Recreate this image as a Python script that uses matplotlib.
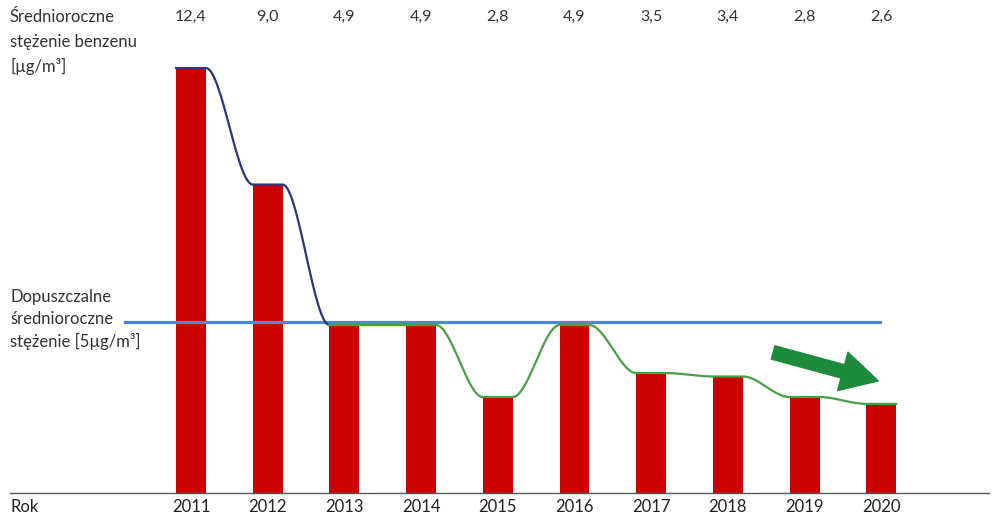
import numpy as np
import matplotlib
matplotlib.use("Agg")
from matplotlib import pyplot as plt

### data
years = [2011, 2012, 2013, 2014, 2015, 2016, 2017, 2018, 2019, 2020]
benzene = [12.4, 9.0, 4.9, 4.9, 2.8, 4.9, 3.5, 3.4, 2.8, 2.6]
value_labels = ["12,4", "9,0", "4,9", "4,9", "2,8", "4,9", "3,5", "3,4", "2,8", "2,6"]
limit = 5.0

plt.rcParams["font.family"] = ["Lato", "DejaVu Sans"]

W, H = 997, 515
fig = plt.figure(figsize=(W / 100, H / 100), dpi=100)
ax = fig.add_axes([0, 0, 1, 1])
ax.axis("off")

### pixel layout -> data scale
x0_px, step_px = 191, 76.7
base_px, unit_px = 493, 34.27
ax.set_xlim(years[0] - x0_px / step_px, years[0] + (W - x0_px) / step_px)
ax.set_ylim(-(H - base_px) / unit_px, base_px / unit_px)

bar_w = 0.39
red = "#cc0000"
ax.bar(years, benzene, width=bar_w, color=red, zorder=2)


def smooth_path(xs, ys, w):
    """flat over each bar top, smooth step between bars"""
    px, py = [], []
    for i in range(len(xs)):
        px += [xs[i] - w / 2, xs[i] + w / 2]
        py += [ys[i], ys[i]]
        if i < len(xs) - 1:
            a, b = xs[i] + w / 2, xs[i + 1] - w / 2
            t = np.linspace(0, 1, 40)
            s = t * t * (3 - 2 * t)
            px += list(a + (b - a) * t)
            py += list(ys[i] + (ys[i + 1] - ys[i]) * s)
    return np.array(px), np.array(py)


# navy part: above the limit (2011 -> 2013)
nx, ny = smooth_path(years[:3], benzene[:3], bar_w)
keep = nx <= years[2] - bar_w / 2
ax.plot(nx[keep], ny[keep], color="#2b3580", lw=1.6, zorder=4)

# green part: 2013 -> 2020
gx, gy = smooth_path(years[2:], benzene[2:], bar_w)
ax.plot(gx, gy, color="#4a9e45", lw=1.6, zorder=4)

# limit line
ax.plot([2010.14, 2019.98], [limit, limit], color="#4a88d8", lw=2.3, zorder=3)

# baseline
ax.plot([2008.64, 2021.4], [0, 0], color="#555555", lw=1.0, zorder=3)

# trend arrow
ax.annotate("", xy=(2019.96, 3.27), xytext=(2018.59, 4.1),
            arrowprops=dict(arrowstyle="simple,head_width=2.6,head_length=2.4,tail_width=0.9",
                            color="#1e8a3c", mutation_scale=11, shrinkA=0, shrinkB=0),
            zorder=5)

top_y = (base_px - 17) / unit_px
bot_y = -(507 - base_px) / unit_px
for yr, lab in zip(years, value_labels):
    ax.text(yr, top_y, lab, ha="center", va="center", fontsize=11.5, color="#333333")
    ax.text(yr, bot_y, str(yr), ha="center", va="center", fontsize=12, color="#222222")

left_lines = [("Średnioroczne", 17), ("stężenie benzenu", 42), ("[µg/m³]", 66),
              ("Dopuszczalne", 297), ("średnioroczne", 319), ("stężenie [5µg/m³]", 341)]
for txt, ypx in left_lines:
    ax.text(10 / W, 1 - ypx / H, txt, transform=ax.transAxes,
            ha="left", va="center", fontsize=12, color="#333333")

ax.text(10 / W, 1 - 507 / H, "Rok", transform=ax.transAxes,
        ha="left", va="center", fontsize=12, color="#222222")

fig.savefig("out.png", dpi=100)
